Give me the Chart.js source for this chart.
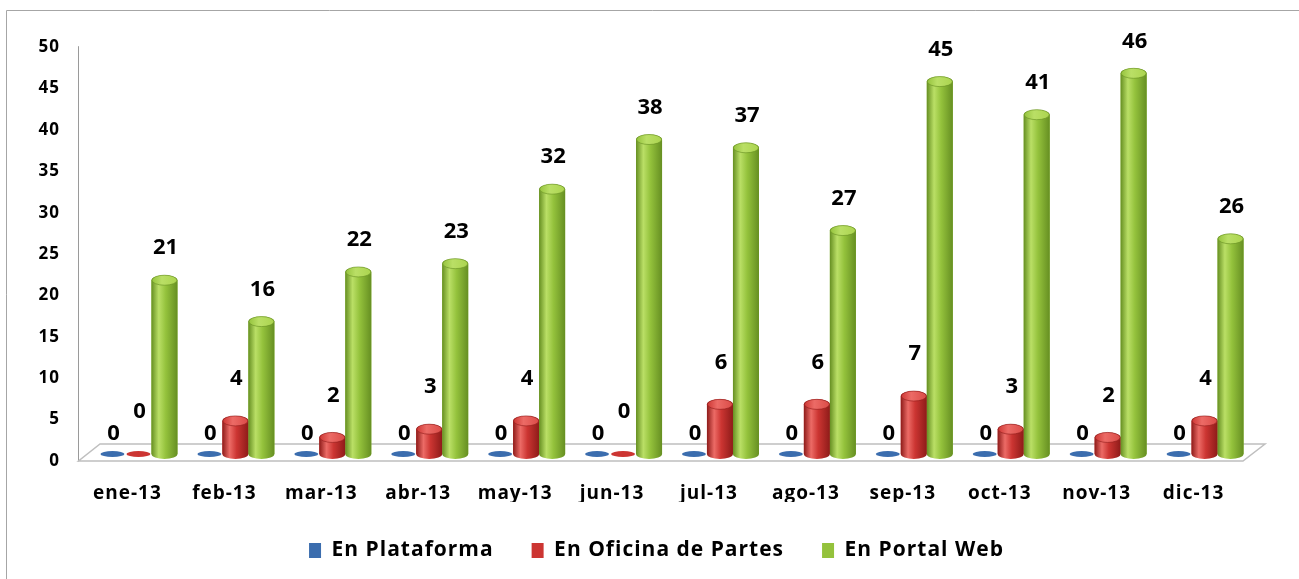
<!DOCTYPE html>
<html>
<head>
<meta charset="utf-8">
<script src="https://cdn.jsdelivr.net/npm/chart.js@4.4.1/dist/chart.umd.min.js"></script>
<style>
  html, body { margin: 0; padding: 0; background: #fff; }
  #wrap { position: relative; width: 1299px; height: 579px; }
</style>
</head>
<body>
<div id="wrap"><canvas id="volChart" width="1299" height="579"></canvas></div>
<script>
const months = ["ene-13", "feb-13", "mar-13", "abr-13", "may-13", "jun-13",
  "jul-13", "ago-13", "sep-13", "oct-13", "nov-13", "dic-13"];
const seriesNames = ["En Plataforma", "En Oficina de Partes", "En Portal Web"];
const plataforma = [0, 0, 0, 0, 0, 0, 0, 0, 0, 0, 0, 0];
const oficina = [0, 4, 2, 3, 4, 0, 6, 6, 7, 3, 2, 4];
const portal = [21, 16, 22, 23, 32, 38, 37, 27, 45, 41, 46, 26];
const yTicks = [0, 5, 10, 15, 20, 25, 30, 35, 40, 45, 50];

const FONT = "'Open Sans', sans-serif";

// colour ramps for the cylinders
const shades = [
  { base: "#3B6DAE", dark: "#244C80", light: "#5C8FD0", top: "#3F70B0" },
  { base: "#CC3532", dark: "#8E1B19", light: "#EC6B66", top: "#DA4B47" },
  { base: "#94C23C", dark: "#668F22", light: "#BADF66", top: "#ABD44E" },
];
const labelLift = [20, 42, 32];

// the Excel text is a bit wider than Open Sans, spread it a little
const spacing = {
  id: "spacing",
  beforeLayout(chart) { chart.ctx.letterSpacing = "1px"; },
  beforeDraw(chart) { chart.ctx.letterSpacing = "1px"; },
  afterLayout(chart) {
    // legend sits centred on the whole page, not on the padded box
    const lg = chart.legend;
    const shift = (chart.width - (lg.left + lg.right)) / 2 + 7;
    lg.left += shift;
    lg.right += shift;
  },
};

// frame, floor and axis line
const backdrop = {
  id: "backdrop",
  beforeDatasetsDraw(chart) {
    const { ctx, chartArea: a, scales } = chart;
    const zero = scales.y.getPixelForValue(0);
    const front = zero + 7, back = zero - 10;
    ctx.save();
    ctx.strokeStyle = "#A6A6A6";
    ctx.lineWidth = 1;
    ctx.beginPath();
    ctx.moveTo(6.5, 579);
    ctx.lineTo(6.5, 10.5);
    ctx.lineTo(1299, 10.5);
    ctx.stroke();

    ctx.strokeStyle = "#9A9A9A";
    ctx.beginPath();
    ctx.moveTo(a.left - 11.5, a.top + 6);
    ctx.lineTo(a.left - 11.5, front + 0.5);
    ctx.stroke();

    ctx.fillStyle = "#FFFFFF";
    ctx.strokeStyle = "#BFBFBF";
    ctx.lineWidth = 1.5;
    ctx.beginPath();
    ctx.moveTo(a.left - 11.5, front);
    ctx.lineTo(a.right - 10, front);
    ctx.lineTo(a.right + 12, back);
    ctx.lineTo(a.left + 10, back);
    ctx.closePath();
    ctx.fill();
    ctx.stroke();
    ctx.restore();
  },
};

// shade each bar as a cylinder and put its value above it
const cylinders = {
  id: "cylinders",
  afterDatasetsDraw(chart) {
    const ctx = chart.ctx;
    ctx.save();
    ctx.letterSpacing = "0px";
    chart.data.datasets.forEach((ds, di) => {
      const meta = chart.getDatasetMeta(di);
      const s = shades[di];
      meta.data.forEach((bar, i) => {
        const { x, y, base, width } = bar.getProps(["x", "y", "base", "width"], true);
        const rx = width / 2;
        if (ds.data[i] === 0) {
          ctx.fillStyle = s.base;
          ctx.beginPath();
          ctx.ellipse(x, base, rx - 1, 3, 0, 0, Math.PI * 2);
          ctx.fill();
        } else {
          const ry = 5;
          const g = ctx.createLinearGradient(x - rx, 0, x + rx, 0);
          g.addColorStop(0, s.dark);
          g.addColorStop(0.28, s.light);
          g.addColorStop(0.55, s.base);
          g.addColorStop(1, s.dark);
          ctx.fillStyle = g;
          ctx.beginPath();
          ctx.moveTo(x - rx, y);
          ctx.lineTo(x - rx, base);
          ctx.ellipse(x, base, rx, ry, 0, Math.PI, 0, true);
          ctx.lineTo(x + rx, y);
          ctx.ellipse(x, y, rx, ry, 0, 0, Math.PI, true);
          ctx.closePath();
          ctx.fill();

          const t = ctx.createLinearGradient(x - rx, 0, x + rx, 0);
          t.addColorStop(0, s.base);
          t.addColorStop(0.4, s.light);
          t.addColorStop(1, s.top);
          ctx.fillStyle = t;
          ctx.strokeStyle = s.dark;
          ctx.lineWidth = 0.6;
          ctx.beginPath();
          ctx.ellipse(x, y, rx - 0.5, ry, 0, 0, Math.PI * 2);
          ctx.fill();
          ctx.stroke();
        }
        ctx.fillStyle = "#000";
        ctx.font = "bold 22px " + FONT;
        ctx.textAlign = "center";
        ctx.textBaseline = "middle";
        ctx.fillText(String(ds.data[i]), x + 1, y - labelLift[di]);
      });
    });
    ctx.restore();
  },
};

new Chart(document.getElementById("volChart").getContext("2d"), {
  type: "bar",
  data: {
    labels: months,
    datasets: [plataforma, oficina, portal].map((vals, k) => ({
      label: seriesNames[k],
      data: vals,
      backgroundColor: shades[k].base,
      borderWidth: 0,
      categoryPercentage: 0.805,
      barPercentage: 1,
    })),
  },
  options: {
    responsive: false,
    animation: false,
    layout: { padding: { left: 0, right: 46, top: 40, bottom: 8 } },
    plugins: {
      legend: {
        position: "bottom",
        labels: {
          font: { family: FONT, size: 21, weight: "bold" },
          color: "#000",
          boxWidth: 12,
          boxHeight: 15,
          padding: 38,
        },
      },
      tooltip: { enabled: false },
    },
    scales: {
      y: {
        min: 0,
        max: 50,
        afterBuildTicks(scale) {
          scale.ticks = yTicks.map((v) => ({ value: v }));
        },
        afterFit(scale) {
          scale.width = 90;
        },
        ticks: {
          font: { family: FONT, size: 17, weight: "bold" },
          color: "#000",
          padding: 30,
          labelOffset: 7,
        },
        grid: { display: false, drawTicks: false },
        border: { display: false },
      },
      x: {
        afterFit(scale) {
          scale.height = 48;
        },
        ticks: {
          font: { family: FONT, size: 19, weight: "bold" },
          color: "#000",
          padding: 28,
          labelOffset: -11,
          maxRotation: 0,
          autoSkip: false,
        },
        grid: { display: false, drawTicks: false },
        border: { display: false },
      },
    },
  },
  plugins: [spacing, backdrop, cylinders],
});
</script>
</body>
</html>
